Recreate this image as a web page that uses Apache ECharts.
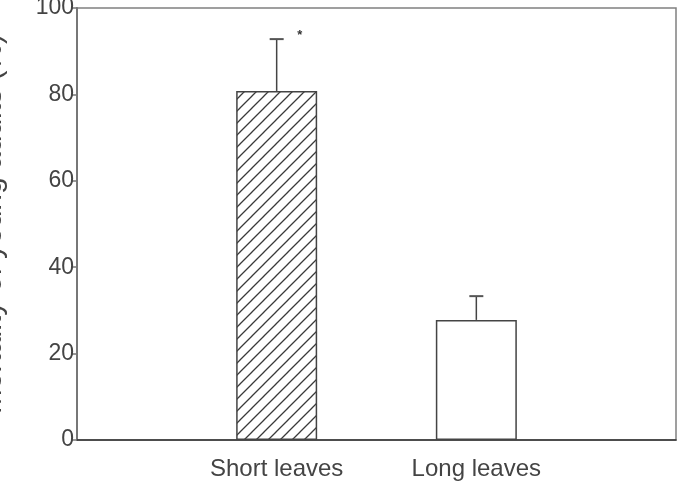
<!DOCTYPE html>
<html>
<head>
<meta charset="utf-8">
<script src="https://cdn.jsdelivr.net/npm/echarts@6/dist/echarts.min.js"></script>
<style>
html,body{margin:0;padding:0;background:#fff;}
#chart{width:684px;height:492px;}
</style>
</head>
<body>
<div id="chart"></div>
<script>
// Data
var categories = ['', 'Short leaves', 'Long leaves', ''];
var barCategories = ['Short leaves', 'Long leaves'];
var meanValues = [80.8, 27.8];
var errorTops = [92.8, 33.3];
var sigMarks = ['*', ''];
var yTicks = [0, 20, 40, 60, 80, 100];

// hatch pattern
var pc = document.createElement('canvas');
pc.width = 12; pc.height = 12;
var g = pc.getContext('2d');
g.fillStyle = '#fff'; g.fillRect(0, 0, 12, 12);
g.strokeStyle = '#3a3a3a'; g.lineWidth = 1.3;
g.beginPath();
g.moveTo(-1, 13); g.lineTo(13, -1);
g.moveTo(-1, 1); g.lineTo(1, -1);
g.moveTo(11, 13); g.lineTo(13, 11);
g.stroke();

var barData = barCategories.map(function (c, i) {
  return {
    value: [c, meanValues[i]],
    itemStyle: i === 0 ? { color: { image: pc, repeat: 'repeat' } } : { color: '#fff' }
  };
});
var errData = barCategories.map(function (c, i) {
  return [c, meanValues[i], errorTops[i], sigMarks[i]];
});

var FONT = 'Liberation Sans, Arial, sans-serif';
var chart = echarts.init(document.getElementById('chart'));
chart.setOption({
  animation: false,
  backgroundColor: '#fff',
  grid: { left: 77, right: 8, top: 8, bottom: 52, containLabel: false, outerBoundsMode: 'none',
          show: true, borderColor: '#808080', borderWidth: 1.5 },
  xAxis: {
    type: 'category',
    data: categories,
    boundaryGap: false,
    axisLine: { lineStyle: { color: '#333', width: 1.5 } },
    axisTick: { show: false },
    axisLabel: { fontSize: 24, color: '#444', margin: 17, fontFamily: FONT, interval: 0 },
    splitLine: { show: false }
  },
  yAxis: {
    type: 'value',
    min: yTicks[0], max: yTicks[yTicks.length - 1], interval: 20,
    name: 'Mortality of young adults (%)',
    nameLocation: 'middle',
    nameRotate: 90,
    nameGap: 69,
    nameMoveOverlap: false,
    nameTextStyle: { fontSize: 30, color: '#444', fontFamily: FONT },
    axisLine: { show: true, lineStyle: { color: '#777', width: 2 } },
    axisTick: { show: true, length: 5, lineStyle: { color: '#777', width: 1.5 } },
    axisLabel: { fontSize: 23, color: '#444', margin: 3, fontFamily: FONT },
    splitLine: { show: false }
  },
  series: [
    {
      type: 'bar',
      data: barData,
      barWidth: 81,
      itemStyle: { borderColor: '#444', borderWidth: 1.5 },
      z: 2
    },
    {
      type: 'custom',
      data: errData,
      z: 3,
      renderItem: function (params, api) {
        var cat = api.value(0);
        var lo = api.coord([cat, api.value(1)]);
        var hi = api.coord([cat, api.value(2)]);
        var mark = errData[params.dataIndex][3];
        var children = [
          { type: 'line', shape: { x1: hi[0], y1: lo[1], x2: hi[0], y2: hi[1] }, style: { stroke: '#444', lineWidth: 1.5 } },
          { type: 'line', shape: { x1: hi[0] - 7, y1: hi[1], x2: hi[0] + 7, y2: hi[1] }, style: { stroke: '#555', lineWidth: 2 } }
        ];
        if (mark) {
          children.push({ type: 'text', x: hi[0] + 23, y: hi[1] - 4, style: { text: mark, fontSize: 13, fill: '#333', align: 'center', verticalAlign: 'middle', fontFamily: FONT, fontWeight: 'bold' } });
        }
        return { type: 'group', children: children };
      }
    }
  ]
});
</script>
</body>
</html>
